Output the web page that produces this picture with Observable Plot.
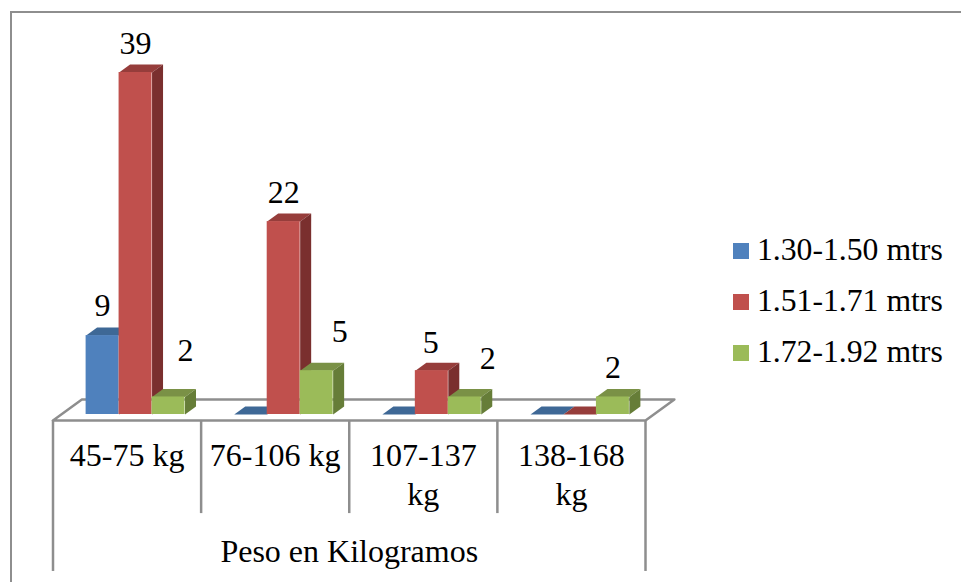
<!DOCTYPE html>
<html>
<head>
<meta charset="utf-8">
<script src="https://cdn.jsdelivr.net/npm/d3@7"></script>
<script src="https://cdn.jsdelivr.net/npm/@observablehq/plot@0.6"></script>
<style>
  html, body { margin: 0; padding: 0; background: #fff; }
  #page { position: relative; width: 961px; height: 582px; overflow: hidden; font-family: "Liberation Serif", serif; }
  #frame { position: absolute; left: 10px; top: 11px; right: -5px; bottom: -5px; border-left: 2px solid #8e8e8e; border-top: 2px solid #8e8e8e; }
  #chart { position: absolute; left: 0; top: 0; }
  #chart svg { display: block; background: transparent; }
  #legend { position: absolute; left: 733px; top: 224px; font-size: 31.7px; color: #000; }
  #legend .row { display: flex; align-items: center; height: 51px; white-space: nowrap; }
  #legend .sw { width: 16px; height: 16px; margin-right: 8px; position: relative; top: 1px; }
</style>
</head>
<body>
<div id="page">
  <div id="frame"></div>
  <div id="chart"></div>
  <div id="legend"></div>
</div>
<script>
const categories = ["45-75 kg", "76-106 kg", "107-137\nkg", "138-168\nkg"];
const seriesNames = ["1.30-1.50 mtrs", "1.51-1.71 mtrs", "1.72-1.92 mtrs"];
const heights130 = [9, 0, 0, 0];
const heights151 = [39, 22, 5, 0];
const heights172 = [2, 5, 2, 2];
const axisTitle = "Peso en Kilogramos";

const front = ["#4F81BD", "#C0504D", "#9BBB59"];
const topFace = ["#3E6896", "#963D3B", "#7A9146"];
const sideFace = ["#33557C", "#7A2F2E", "#667D38"];
const grey = "#8e8e8e";

// Chart-space constants (category units on x, value units on y)
const barW = 0.2226, barStart = 0.2235;
const depthX = 0.0742, depthY = 0.91;
const floorFront = -0.68, floorBack = 1.71, floorSkew = 0.195;
const tickShort = -11.3, tickLong = -17.9;
const catLabelY = -2.67, titleY = -15.7;
const textSize = 32;

const allSeries = [heights130, heights151, heights172];
const barMarks = [];
allSeries.forEach((vals, s) => {
  const bars = vals.map((v, i) => ({v, x0: i + barStart + s * barW, x1: i + barStart + (s + 1) * barW, i}));
  const tops = bars.flatMap(b => [
    {id: b.i, x: b.x0, y: b.v}, {id: b.i, x: b.x1, y: b.v},
    {id: b.i, x: b.x1 + depthX, y: b.v + depthY}, {id: b.i, x: b.x0 + depthX, y: b.v + depthY}
  ]);
  const sides = bars.filter(b => b.v > 0).flatMap(b => [
    {id: b.i, x: b.x1, y: 0}, {id: b.i, x: b.x1 + depthX, y: depthY},
    {id: b.i, x: b.x1 + depthX, y: b.v + depthY}, {id: b.i, x: b.x1, y: b.v}
  ]);
  barMarks.push(
    Plot.line(tops, {x: "x", y: "y", z: "id", fill: topFace[s], stroke: "none"}),
    Plot.line(sides, {x: "x", y: "y", z: "id", fill: sideFace[s], stroke: "none"}),
    Plot.rectY(bars.filter(b => b.v > 0), {x1: "x0", x2: "x1", y1: 0, y2: "v", fill: front[s]})
  );
});

// Pixel nudges for the value labels: series, category, dx, dy
const labelNudges = [
  [0, 0, 0, -30], [1, 0, 0, -29], [2, 0, 17, -46],
  [1, 1, 0, -29], [2, 1, 23, -39],
  [1, 2, -1, -28], [2, 2, 23, -38],
  [2, 3, 0, -29]
];
const labelMarks = labelNudges.map(([s, i, dx, dy]) =>
  Plot.text([{x: i + barStart + (s + 0.5) * barW, y: allSeries[s][i]}], {
    x: "x", y: "y", text: d => String(d.y), dx, dy,
    fontSize: textSize, fontFamily: "Liberation Serif", fill: "#000"
  }));

const floor = [
  {x: 0, y: floorFront}, {x: floorSkew, y: floorBack},
  {x: categories.length + floorSkew, y: floorBack},
  {x: categories.length, y: floorFront}, {x: 0, y: floorFront}
];
const ticks = d3.range(categories.length + 1);

const plot = Plot.plot({
  width: 961, height: 582,
  marginLeft: 0, marginRight: 0, marginTop: 0, marginBottom: 0,
  style: {background: "transparent"},
  x: {domain: [0, categories.length], range: [52.5, 645], axis: null},
  y: {domain: [0, 39], range: [414, 72], axis: null},
  marks: [
    Plot.line(floor, {x: "x", y: "y", stroke: grey, strokeWidth: 2.5}),
    Plot.ruleX(ticks, {
      x: d => d, y1: floorFront,
      y2: d => (d === 0 || d === categories.length) ? tickLong : tickShort,
      stroke: grey, strokeWidth: 2.5
    }),
    ...barMarks,
    ...labelMarks,
    Plot.text(categories, {
      x: (d, i) => i + 0.5, y: catLabelY, text: d => d,
      lineAnchor: "top", lineHeight: 1.22,
      fontSize: textSize, fontFamily: "Liberation Serif", fill: "#000"
    }),
    Plot.text([axisTitle], {
      x: categories.length / 2, y: titleY, text: d => d,
      fontSize: textSize, fontFamily: "Liberation Serif", fill: "#000"
    })
  ]
});
document.getElementById("chart").append(plot);

const legend = d3.select("#legend");
seriesNames.forEach((name, s) => {
  const row = legend.append("div").attr("class", "row");
  row.append("div").attr("class", "sw").style("background", front[s]);
  row.append("div").text(name);
});
</script>
</body>
</html>
